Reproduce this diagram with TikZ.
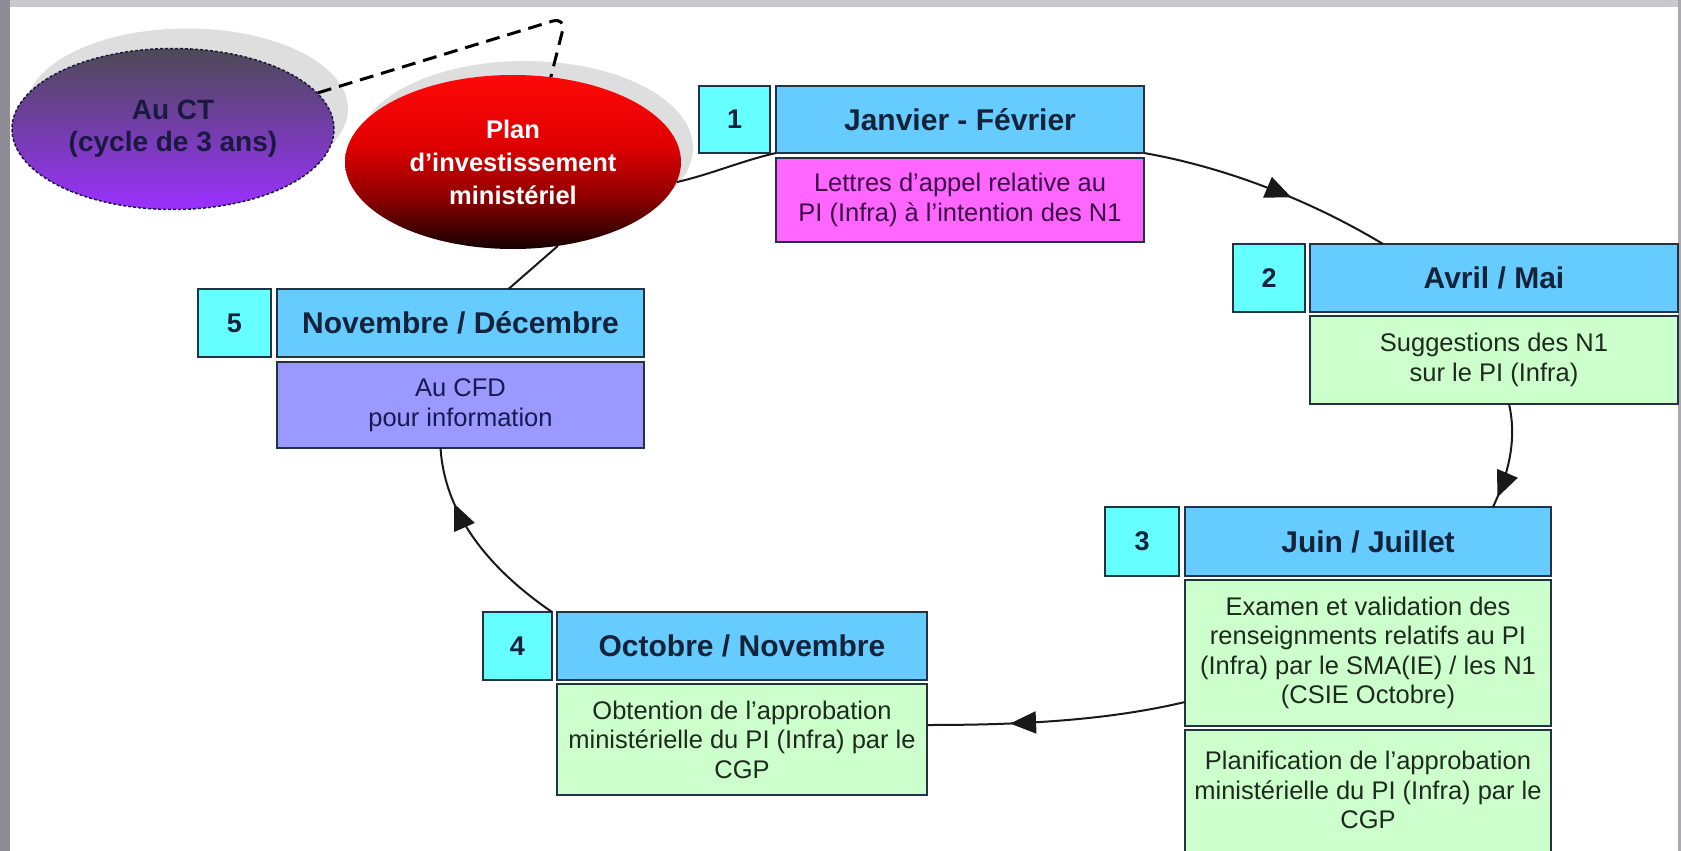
\documentclass[tikz,border=0pt]{standalone}
\usepackage{fontspec}
\setmainfont{Liberation Sans}
\usetikzlibrary{shapes.geometric, arrows.meta, decorations.markings, calc, shadows}

\definecolor{cyanbox}{HTML}{66FFFF}
\definecolor{headblue}{HTML}{66CCFF}
\definecolor{pinkbox}{HTML}{FF66FF}
\definecolor{greenbox}{HTML}{CCFFCC}
\definecolor{violetbox}{HTML}{9999FF}
\definecolor{boxline}{HTML}{223344}
\definecolor{headtext}{HTML}{14223A}
\definecolor{bodytext}{HTML}{1E2A1E}
\definecolor{pinktext}{HTML}{3C0A46}
\definecolor{violettext}{HTML}{1A1850}
\definecolor{shadowgray}{HTML}{DEDEDE}
\definecolor{frameleft}{HTML}{8E8C94}
\definecolor{frametop}{HTML}{C9C8CE}
\definecolor{ctline}{HTML}{1A1A40}
\definecolor{cttop}{HTML}{4C4A56}
\definecolor{ctmid}{HTML}{7442C0}
\definecolor{ctbot}{HTML}{9B30FF}
\definecolor{plantop}{HTML}{FF0808}
\definecolor{planmid}{HTML}{E00000}
\definecolor{planlow}{HTML}{900000}
\definecolor{planbot}{HTML}{140000}

\pgfdeclareverticalshading{planshade}{100bp}{%
  color(0bp)=(planbot); color(25bp)=(planbot); color(40bp)=(planlow);
  color(55bp)=(planmid); color(75bp)=(plantop); color(100bp)=(plantop)}

\begin{document}
\begin{tikzpicture}[x=1pt,y=-1pt,
  box/.style={draw=boxline, line width=2pt, inner sep=0pt, outer sep=0pt,
              anchor=north west, align=center},
  numbox/.style={box, fill=cyanbox, text=headtext,
              font=\fontsize{27}{30}\selectfont\bfseries},
  headbox/.style={box, fill=headblue, text=headtext,
              font=\fontsize{30}{34}\selectfont\bfseries},
  descfont/.style={font=\fontsize{25.5}{29.5}\selectfont},
  descbox/.style={box, descfont, text=bodytext},
  link/.style={line width=2pt, draw=black!90},
  midarrow/.style={postaction={decorate}, decoration={markings,
      mark=at position #1 with {\arrow{Triangle[length=26pt,width=22pt]}}}},
]
\path[use as bounding box] (0,0) rectangle (1681,851);
\clip (0,0) rectangle (1681,851);
\fill[white] (0,0) rectangle (1681,851);
\fill[frametop] (0,0) rectangle (1681,7);
\fill[frameleft] (0,0) rectangle (10,851);
\fill[frametop!85!black] (1678,0) rectangle (1681,851);

% ellipses
\node[ellipse, minimum width=322, minimum height=161, inner sep=0pt,
      draw=ctline, line width=1.5pt, dash pattern=on 3pt off 2pt,
      top color=cttop, middle color=ctmid, bottom color=ctbot,
      general shadow={shadow xshift=14pt, shadow yshift=20pt, fill=shadowgray, draw=none},
      font=\fontsize{28}{32}\selectfont\bfseries, text=ctline, align=center]
      (auct) at (173,129) {Au CT\\(cycle de 3 ans)};
\node[ellipse, minimum width=336, minimum height=174, inner sep=0pt,
      shading=planshade,
      general shadow={shadow xshift=12pt, shadow yshift=14pt, fill=shadowgray, draw=none},
      font=\fontsize{25.5}{33}\selectfont\bfseries, text=white, align=center]
      (plan) at (513,162) {Plan\\d’investissement\\ministériel};

% step 1
\node[numbox, minimum width=71, minimum height=67] (n1) at (699,86) {1};
\node[headbox, minimum width=368, minimum height=67] (h1) at (776,86) {Janvier - Février};
\node[descbox, fill=pinkbox, text=pinktext, minimum width=368, minimum height=84] (d1) at (776,158)
  {Lettres d’appel relative au\\PI (Infra) à l’intention des N1};
% step 2
\node[numbox, minimum width=72, minimum height=68] (n2) at (1233,244) {2};
\node[headbox, minimum width=368, minimum height=68] (h2) at (1310,244) {Avril / Mai};
\node[descbox, fill=greenbox, minimum width=368, minimum height=88] (d2) at (1310,316)
  {Suggestions des N1\\sur le PI (Infra)};
% step 3
\node[numbox, minimum width=74, minimum height=69] (n3) at (1105,507) {3};
\node[headbox, minimum width=366, minimum height=69] (h3) at (1185,507) {Juin / Juillet};
\node[descbox, fill=greenbox, minimum width=366, minimum height=146] (d3a) at (1185,580)
  {Examen et validation des\\renseignments relatifs au PI\\(Infra) par le SMA(IE) / les N1\\(CSIE Octobre)};
\node[descbox, fill=greenbox, minimum width=366, minimum height=140] (d3b) at (1185,730) {};
\node[descfont, text=bodytext, align=center] (d3bt) at ($(d3b.north)+(0,60)$)
  {Planification de l’approbation\\ministérielle du PI (Infra) par le\\CGP};
% step 4
\node[numbox, minimum width=69, minimum height=68] (n4) at (483,612) {4};
\node[headbox, minimum width=370, minimum height=68] (h4) at (557,612) {Octobre / Novembre};
\node[descbox, fill=greenbox, minimum width=370, minimum height=111] (d4) at (557,684)
  {Obtention de l’approbation\\ministérielle du PI (Infra) par le\\CGP};
% step 5
\node[numbox, minimum width=73, minimum height=68] (n5) at (198,289) {5};
\node[headbox, minimum width=367, minimum height=68] (h5) at (277,289) {Novembre / Décembre};
\node[descbox, fill=violetbox, text=violettext, minimum width=367, minimum height=86] (d5) at (277,362)
  {Au CFD\\pour information};

% connectors
\draw[line width=3pt, dash pattern=on 14pt off 8pt, rounded corners=14pt]
  (auct.14) -- (566,17) -- (plan.66);
\draw[link] (plan.-7) .. controls +(35,-8) and +(-35,8) .. (h1.south west);
\draw[link, midarrow=0.6] (h1.south east) .. controls +(91,16) and +(-63,-38) .. ($(h2.north west)+(73,0)$);
\draw[link, midarrow=0.9] ($(d2.south)+(15,0)$) .. controls +(8,35) and +(16,-34) .. ($(h3.north)+(125,0)$);
\draw[link, midarrow=0.68] ($(d3a.west)+(0,49)$) .. controls +(-80,19) and +(90,0) .. ($(d4.east)+(0,-14.5)$);
\draw[link, midarrow=0.72] (n4.north east) .. controls +(-70,-48) and +(4,61) .. ($(d5.south)+(-20,0)$);
\draw[link] ($(h5.north)+(48,0)$) -- (plan.-62);
\end{tikzpicture}
\end{document}
